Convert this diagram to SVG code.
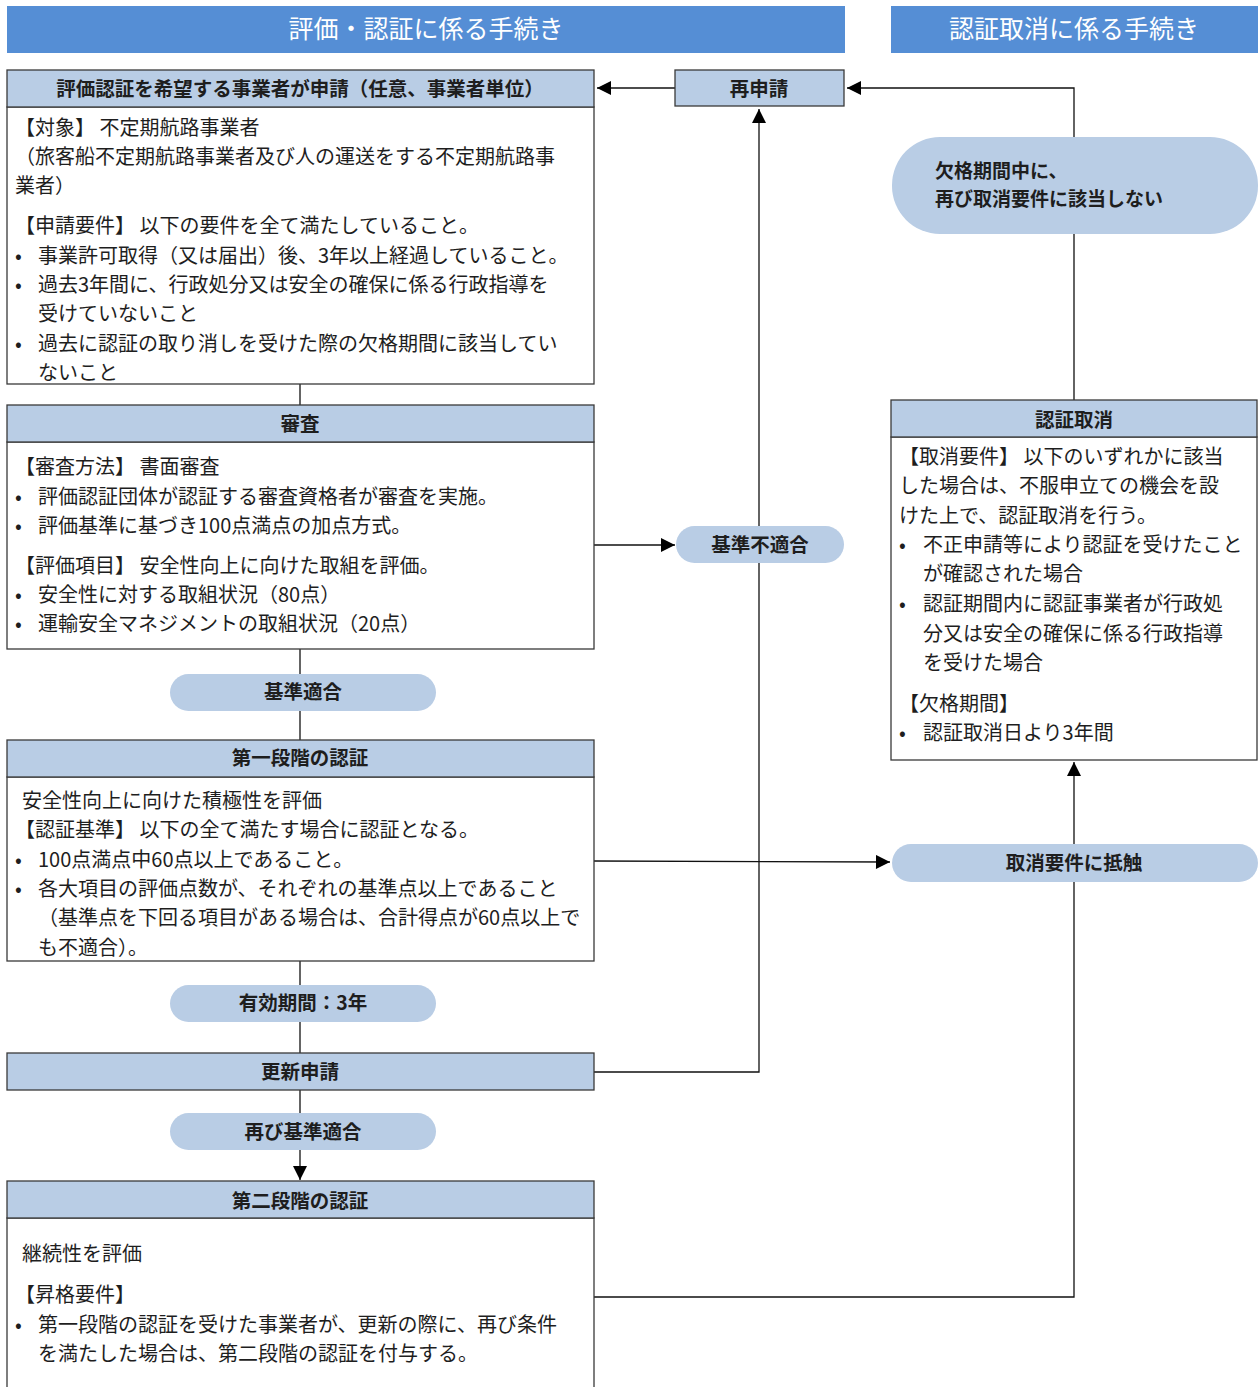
<svg xmlns="http://www.w3.org/2000/svg" width="1258" height="1387" viewBox="0 0 1258 1387">
<style>
text{font-family:"Noto Sans CJK JP","Noto Sans CJK SC",sans-serif;fill:#1e1e1e}
.hdr{fill:#558ED5}
.hdrt{fill:#fff;font-size:25px;text-anchor:middle}
.bh{fill:#B9CDE5;stroke:#3a3a3a;stroke-width:1.3}
.bb{fill:#fff;stroke:#3a3a3a;stroke-width:1.3}
.pill{fill:#B9CDE5}
.tt{font-size:19.5px;font-weight:700;text-anchor:middle}
.tl{font-size:19px;font-weight:700}
.tx{font-size:20px}
.ln{stroke:#111;stroke-width:1.3;fill:none}
</style>
<defs>
<marker id="ah" viewBox="0 0 10 10" markerWidth="16" markerHeight="14" refX="10" refY="5" orient="auto" markerUnits="userSpaceOnUse">
<path d="M0,0 L10,5 L0,10 z" fill="#000"/>
</marker>
</defs>
<rect width="1258" height="1387" fill="#fff"/>

<g id="connectors">
<path class="ln" d="M675,88 L597,88" marker-end="url(#ah)"/>
<path class="ln" d="M1074,400 L1074,88 L847,88" marker-end="url(#ah)"/>
<path class="ln" d="M594,1072 L759,1072 L759,109" marker-end="url(#ah)"/>
<path class="ln" d="M594,545 L675,545" marker-end="url(#ah)"/>
<path class="ln" d="M594,861 L890,862" marker-end="url(#ah)"/>
<path class="ln" d="M594,1297 L1074,1297 L1074,762" marker-end="url(#ah)"/>
<path class="ln" d="M300,384 L300,405"/>
<path class="ln" d="M300,649 L300,740"/>
<path class="ln" d="M300,961 L300,1053"/>
<path class="ln" d="M300,1090 L300,1180" marker-end="url(#ah)"/>
</g>

<g id="header-left">
<rect class="hdr" x="7" y="6" width="838" height="47"/>
<text class="hdrt" x="426" y="38">評価・認証に係る手続き</text>
</g>
<g id="header-right">
<rect class="hdr" x="891" y="6" width="367" height="47"/>
<text class="hdrt" x="1074" y="38">認証取消に係る手続き</text>
</g>

<g id="apply">
<rect class="bb" x="7" y="107" width="587" height="277"/>
<rect class="bh" x="7" y="70" width="587" height="37"/>
<text class="tt" x="300" y="96">評価認証を希望する事業者が申請（任意、事業者単位）</text>
<text class="tx" x="15" y="135">【対象】 不定期航路事業者</text>
<text class="tx" x="15" y="164">（旅客船不定期航路事業者及び人の運送をする不定期航路事</text>
<text class="tx" x="15" y="193">業者）</text>
<text class="tx" x="15" y="233">【申請要件】 以下の要件を全て満たしていること。</text>
<text class="tx" x="15" y="263">•</text>
<text class="tx" x="38" y="263">事業許可取得（又は届出）後、3年以上経過していること。</text>
<text class="tx" x="15" y="292">•</text>
<text class="tx" x="38" y="292">過去3年間に、行政処分又は安全の確保に係る行政指導を</text>
<text class="tx" x="38" y="321">受けていないこと</text>
<text class="tx" x="15" y="351">•</text>
<text class="tx" x="38" y="351">過去に認証の取り消しを受けた際の欠格期間に該当してい</text>
<text class="tx" x="38" y="380">ないこと</text>
</g>

<g id="review">
<rect class="bb" x="7" y="442" width="587" height="207"/>
<rect class="bh" x="7" y="405" width="587" height="37"/>
<text class="tt" x="300" y="431">審査</text>
<text class="tx" x="15" y="474">【審査方法】 書面審査</text>
<text class="tx" x="15" y="504">•</text>
<text class="tx" x="38" y="504">評価認証団体が認証する審査資格者が審査を実施。</text>
<text class="tx" x="15" y="533">•</text>
<text class="tx" x="38" y="533">評価基準に基づき100点満点の加点方式。</text>
<text class="tx" x="15" y="573">【評価項目】 安全性向上に向けた取組を評価。</text>
<text class="tx" x="15" y="602">•</text>
<text class="tx" x="38" y="602">安全性に対する取組状況（80点）</text>
<text class="tx" x="15" y="631">•</text>
<text class="tx" x="38" y="631">運輸安全マネジメントの取組状況（20点）</text>
</g>

<g id="pass">
<rect class="pill" x="170" y="674" width="266" height="37" rx="18.5"/>
<text class="tt" x="303" y="699">基準適合</text>
</g>

<g id="stage1">
<rect class="bb" x="7" y="777" width="587" height="184"/>
<rect class="bh" x="7" y="740" width="587" height="37"/>
<text class="tt" x="300" y="765">第一段階の認証</text>
<text class="tx" x="22" y="808">安全性向上に向けた積極性を評価</text>
<text class="tx" x="15" y="837">【認証基準】 以下の全て満たす場合に認証となる。</text>
<text class="tx" x="15" y="867">•</text>
<text class="tx" x="38" y="867">100点満点中60点以上であること。</text>
<text class="tx" x="15" y="896">•</text>
<text class="tx" x="38" y="896">各大項目の評価点数が、それぞれの基準点以上であること</text>
<text class="tx" x="38" y="925">（基準点を下回る項目がある場合は、合計得点が60点以上で</text>
<text class="tx" x="38" y="955">も不適合）。</text>
</g>

<g id="valid">
<rect class="pill" x="170" y="985" width="266" height="37" rx="18.5"/>
<text class="tt" x="303" y="1010">有効期間：3年</text>
</g>

<g id="renew">
<rect class="bh" x="7" y="1053" width="587" height="37"/>
<text class="tt" x="300" y="1079">更新申請</text>
</g>

<g id="repass">
<rect class="pill" x="170" y="1113" width="266" height="37" rx="18.5"/>
<text class="tt" x="303" y="1139">再び基準適合</text>
</g>

<g id="stage2">
<rect class="bb" x="7" y="1218" width="587" height="175"/>
<rect class="bh" x="7" y="1181" width="587" height="37"/>
<text class="tt" x="300" y="1208">第二段階の認証</text>
<text class="tx" x="22" y="1261">継続性を評価</text>
<text class="tx" x="15" y="1302">【昇格要件】</text>
<text class="tx" x="15" y="1332">•</text>
<text class="tx" x="38" y="1332">第一段階の認証を受けた事業者が、更新の際に、再び条件</text>
<text class="tx" x="38" y="1361">を満たした場合は、第二段階の認証を付与する。</text>
</g>

<g id="reapply">
<rect class="bh" x="675" y="70" width="169" height="36"/>
<text class="tt" x="759" y="96">再申請</text>
</g>

<g id="fail">
<rect class="pill" x="676" y="526" width="168" height="37" rx="18.5"/>
<text class="tt" x="760" y="552">基準不適合</text>
</g>

<g id="no-violation">
<rect class="pill" x="892" y="137" width="366" height="97" rx="48"/>
<text class="tl" x="935" y="178">欠格期間中に、</text>
<text class="tl" x="935" y="206">再び取消要件に該当しない</text>
</g>

<g id="revoke">
<rect class="bb" x="891" y="437" width="366" height="323"/>
<rect class="bh" x="891" y="400" width="366" height="37"/>
<text class="tt" x="1074" y="427">認証取消</text>
<text class="tx" x="899" y="464">【取消要件】 以下のいずれかに該当</text>
<text class="tx" x="899" y="493">した場合は、不服申立ての機会を設</text>
<text class="tx" x="899" y="523">けた上で、認証取消を行う。</text>
<text class="tx" x="899" y="552">•</text>
<text class="tx" x="923" y="552">不正申請等により認証を受けたこと</text>
<text class="tx" x="923" y="581">が確認された場合</text>
<text class="tx" x="899" y="611">•</text>
<text class="tx" x="923" y="611">認証期間内に認証事業者が行政処</text>
<text class="tx" x="923" y="641">分又は安全の確保に係る行政指導</text>
<text class="tx" x="923" y="670">を受けた場合</text>
<text class="tx" x="899" y="711">【欠格期間】</text>
<text class="tx" x="899" y="740">•</text>
<text class="tx" x="923" y="740">認証取消日より3年間</text>
</g>

<g id="violation">
<rect class="pill" x="892" y="844" width="366" height="38" rx="19"/>
<text class="tt" x="1074" y="870">取消要件に抵触</text>
</g>
</svg>
